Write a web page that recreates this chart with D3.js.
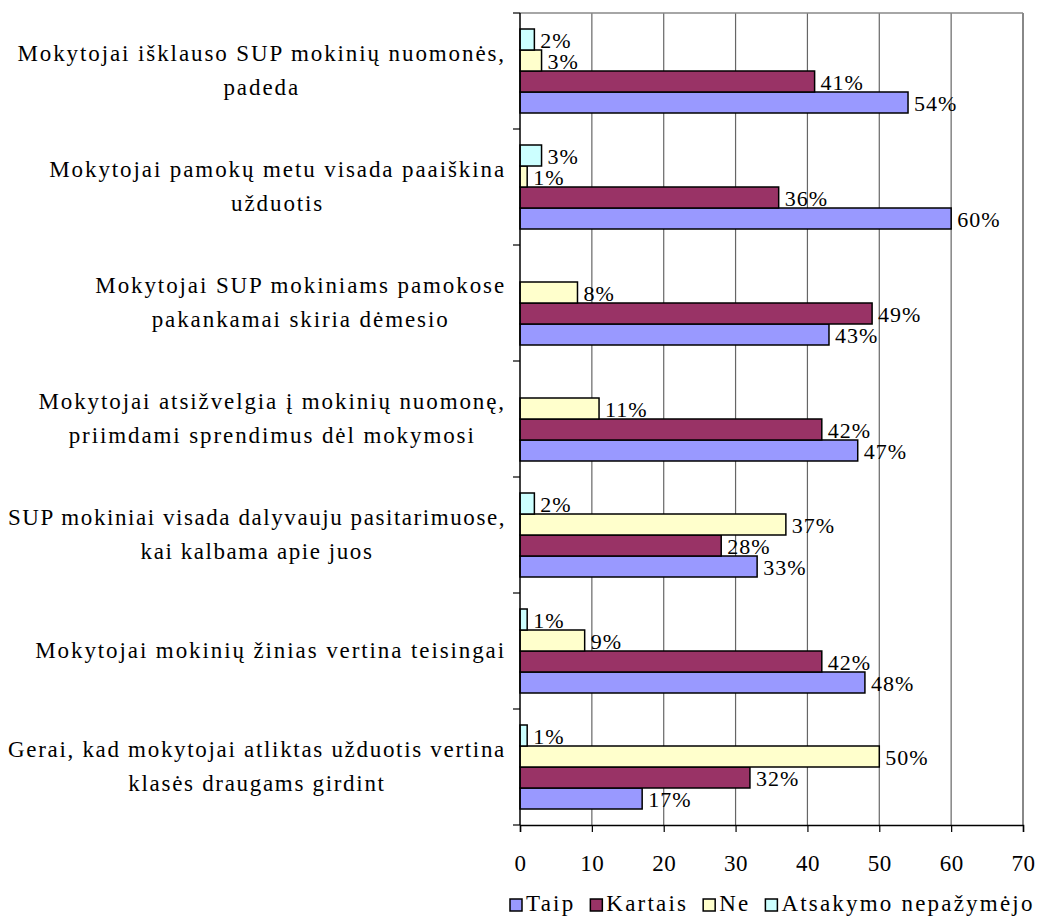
<!DOCTYPE html>
<html><head><meta charset="utf-8">
<script src="https://cdn.jsdelivr.net/npm/d3@7"></script>
<style>body{margin:0;background:#fff}text{font-family:"Liberation Serif","Times New Roman",serif;fill:#000}</style>
</head><body><svg id="c" width="1039" height="919"></svg>
<script>
const categories = [
  ["Mokytojai išklauso SUP mokinių nuomonės,", "padeda"],
  ["Mokytojai pamokų metu visada paaiškina", "užduotis"],
  ["Mokytojai SUP mokiniams pamokose", "pakankamai skiria dėmesio"],
  ["Mokytojai atsižvelgia į mokinių nuomonę,", "priimdami sprendimus dėl mokymosi"],
  ["SUP mokiniai visada dalyvauju pasitarimuose,", "kai kalbama apie juos"],
  ["Mokytojai mokinių žinias vertina teisingai"],
  ["Gerai, kad mokytojai atliktas užduotis vertina", "klasės draugams girdint"]
];
const seriesNames = ["Taip", "Kartais", "Ne", "Atsakymo nepažymėjo"];
const taip    = [54, 60, 43, 47, 33, 48, 17];
const kartais = [41, 36, 49, 42, 28, 42, 32];
const ne      = [3, 1, 8, 11, 37, 9, 50];
const atsak   = [2, 3, null, null, 2, 1, 1];
const xTicks  = [0, 10, 20, 30, 40, 50, 60, 70];
const colors  = ["#9999FF", "#993366", "#FFFFCC", "#CCFFFF"];

const series = [taip, kartais, ne, atsak];
const svg = d3.select("#c");
const L = 520, R = 1023, T = 13, B = 825;
const x = d3.scaleLinear().domain([0, 70]).range([L, R]);
const catIdx = categories.map((d, i) => i);
const y = d3.scaleBand().domain(catIdx).range([T, B]).paddingInner(32/116).paddingOuter(16/116);
// within a band, top to bottom: Atsakymo, Ne, Kartais, Taip
const yIn = d3.scaleBand().domain([3, 2, 1, 0]).range([0, y.bandwidth()]);

// gridlines
const g = svg.append("g");
g.selectAll("line.grid").data(xTicks.slice(1, -1)).join("line")
  .attr("x1", d => x(d)).attr("x2", d => x(d)).attr("y1", T).attr("y2", B)
  .attr("stroke", "#666").attr("stroke-width", 1.2);
g.append("line").attr("x1", L).attr("x2", R).attr("y1", T).attr("y2", T).attr("stroke", "#888").attr("stroke-width", 1.6);
g.append("line").attr("x1", R).attr("x2", R).attr("y1", T).attr("y2", B).attr("stroke", "#888").attr("stroke-width", 2);

// bars
series.forEach((vals, s) => {
  const rows = vals.map((v, i) => ({v, i})).filter(d => d.v != null);
  svg.append("g").selectAll("rect").data(rows).join("rect")
    .attr("x", x(0)).attr("y", d => y(d.i) + yIn(s))
    .attr("width", d => x(d.v) - x(0)).attr("height", yIn.bandwidth())
    .attr("fill", colors[s]).attr("stroke", "#000").attr("stroke-width", 1.5);
  svg.append("g").selectAll("text").data(rows).join("text")
    .attr("x", d => x(d.v) + 6).attr("y", d => y(d.i) + yIn(s) + yIn.bandwidth()/2 + 8)
    .attr("font-size", 22).attr("letter-spacing", 1).text(d => d.v + "%");
});

// y axis line + ticks
const ya = svg.append("g").attr("transform", `translate(${L},0)`);
ya.append("line").attr("x1", 0).attr("x2", 0).attr("y1", T).attr("y2", B).attr("stroke", "#000").attr("stroke-width", 1.5);
const bounds = catIdx.map(i => y(i) - y.step()*y.paddingOuter()).concat([B]);
ya.selectAll("line.t").data(bounds).join("line").attr("class","t")
  .attr("x1", -7).attr("x2", 0).attr("y1", d => d).attr("y2", d => d).attr("stroke", "#000").attr("stroke-width", 1.2);

// x axis
const xAxis = d3.axisBottom(x).tickValues(xTicks).tickSize(7).tickPadding(23).tickFormat(d3.format("d"));
const xa = svg.append("g").attr("transform", `translate(0,${B})`).call(xAxis);
xa.select(".domain").attr("stroke", "#000").attr("stroke-width", 1.5);
xa.selectAll(".tick line").attr("stroke", "#000").attr("stroke-width", 1.2);
xa.selectAll("text").attr("font-size", 23).attr("letter-spacing", 0.5).attr("dy", null).attr("y", 46);

// category labels (centered block, right edge near axis)
const labG = svg.append("g");
categories.forEach((lines, i) => {
  const cy = y(i) + y.bandwidth()/2;
  const lh = 34;
  const t = labG.append("text").attr("text-anchor", "middle").attr("font-size", 23);
  lines.forEach((ln, k) => {
    t.append("tspan").attr("x", 0).attr("y", cy + (k - (lines.length-1)/2)*lh + 7).text(ln);
  });
  // letter spacing: up to 1.9px, but keep the widest line within 498px
  let ls = 1.9;
  t.selectAll("tspan").each(function(){
    const base = this.getComputedTextLength();
    const n = this.textContent.length;
    ls = Math.min(ls, (498 - base) / n);
  });
  t.attr("letter-spacing", ls);
  const w = t.node().getBBox().width;
  t.attr("transform", `translate(${506 - w/2},0)`);
});

// legend
const leg = svg.append("g");
let lx = 510;
seriesNames.forEach((n, s) => {
  leg.append("rect").attr("x", lx).attr("y", 899).attr("width", 12).attr("height", 12)
    .attr("fill", colors[s]).attr("stroke", "#000").attr("stroke-width", 1.5);
  const t = leg.append("text").attr("x", lx + 16).attr("y", 911).attr("font-size", 23).attr("letter-spacing", 2.2).text(n);
  lx += 16 + t.node().getComputedTextLength() + 15;
});
</script></body></html>
